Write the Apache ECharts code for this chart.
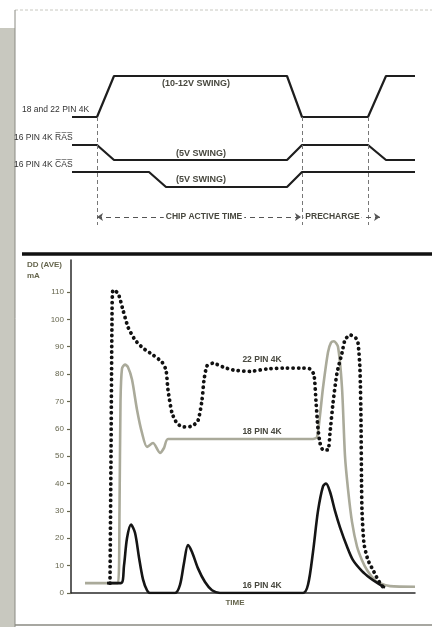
<!DOCTYPE html>
<html>
<head>
<meta charset="utf-8">
<script src="https://cdn.jsdelivr.net/npm/echarts@6/dist/echarts.min.js"></script>
<style>
  html, body { margin: 0; padding: 0; background: #fff; }
  #chart { width: 432px; height: 627px; }
</style>
</head>
<body>
<div id="chart"></div>
<script>
// time axis shared by both panels (0..344)
// upper panel: signal levels (arbitrary units, 0..16)
const sig1822 = [[1, 11.3], [26, 11.3], [43, 15.4], [216, 15.4], [231, 11.3], [297, 11.3], [315, 15.4], [344, 15.4]];
const sigRas = [[1, 8.5], [26, 8.5], [43, 7], [216, 7], [231, 8.5], [297, 8.5], [315, 7], [344, 7]];
const sigCas = [[1, 5.8], [78, 5.8], [95, 4.3], [216, 4.3], [231, 5.8], [344, 5.8]];
const edgeTimes = [26, 231, 297];

// lower panel: IDD (AVE) in mA
const pin22 = [[39, 3.6], [40, 50], [41, 100], [42, 110.7], [47, 109.6], [52, 103.4], [57, 97.2], [64, 92.5],
  [72, 89.5], [82, 87], [91, 84.4], [95, 81.5], [97, 74.2], [101, 65.8], [106, 62], [112, 60.7], [121, 61],
  [127, 63], [131, 70.5], [133, 77.8], [136, 83], [142, 84], [152, 82.6], [162, 81.5], [179, 81], [196, 81.9],
  [212, 82.2], [229, 82.2], [239, 81.9], [243, 79.7], [245, 70], [247, 60], [249, 54.8], [252, 52.3],
  [257, 52.3], [259, 58.5], [262, 69.4], [266, 80.4], [271, 87.7], [274, 92.5], [279, 94.3], [284, 93.6],
  [287, 91.4], [289, 81.5], [290, 63], [290.5, 42], [291, 30], [293, 18], [297, 12], [302, 8.4], [307, 4.8], [312, 2.2]];
const pin18 = [[14, 3.6], [47, 3.6], [48.5, 30], [49.5, 70], [51, 82], [54, 83.5], [57, 82.5], [61, 78], [66, 67],
  [71, 58.5], [76, 53.4], [82, 54.8], [89, 51.2], [93, 53], [97, 56.3], [242, 56.3], [246, 57], [249, 65],
  [252, 75], [257, 88], [260, 91.5], [263, 92], [267, 90], [271, 75], [274, 50], [277, 38], [281, 26], [286, 17],
  [291, 12], [296, 8.4], [303, 5], [309, 3.6], [319, 2.5], [344, 2.3]];
const pin16 = [[36, 3.6], [50, 3.6], [53, 10], [56, 20], [60, 25], [64, 22], [68, 13], [72, 5], [76, 1], [79, 0],
  [104, 0], [109, 3], [113, 11], [117, 17.5], [121, 15], [127, 9], [134, 4], [141, 1], [149, 0], [232, 0],
  [237, 3], [242, 15], [247, 30], [252, 39], [255, 40], [259, 37], [264, 30], [269, 24], [276, 17], [282, 12],
  [291, 8], [299, 5.5], [307, 3.5], [314, 2]];
const yTicks = [0, 10, 20, 30, 40, 50, 60, 70, 80, 90, 100, 110];

const chart = echarts.init(document.getElementById('chart'), null, { renderer: 'canvas' });
const font = '"Liberation Sans", Arial, sans-serif';
const lblColor = '#48483f';
const tickColor = '#66664e';

function txt(x, y, text, opts, size, weight) {
  return {
    type: 'text', x, y, silent: true,
    style: Object.assign({
      text, font: (weight || 'bold') + ' ' + (size || 8.5) + 'px ' + font, fill: lblColor,
      verticalAlign: 'middle', align: 'left'
    }, opts || {})
  };
}

const dashItem = t => [
  { coord: [t, 11.3], symbol: 'none', lineStyle: { type: [4, 3], color: '#777', width: 1 } },
  { coord: [t, 0.5], symbol: 'none' }
];

const arrowLabel = (text, off) => ({
  show: true, position: 'insideMiddle', formatter: text, distance: 0, offset: [off, 0],
  fontSize: 8.5, fontWeight: 'bold', fontFamily: font, color: lblColor, backgroundColor: '#fff', padding: [1, 2]
});

const option = {
  animation: false,
  backgroundColor: '#fff',
  grid: [
    { left: 71, right: 17, top: 70, bottom: 397 },
    { left: 71, right: 17, top: 260, bottom: 34 }
  ],
  xAxis: [
    { gridIndex: 0, type: 'value', min: 0, max: 344, show: false },
    {
      gridIndex: 1, type: 'value', min: 0, max: 344,
      axisLine: { lineStyle: { color: '#2a2a2a', width: 1.5 } },
      axisTick: { show: false }, axisLabel: { show: false }, splitLine: { show: false }
    }
  ],
  yAxis: [
    { gridIndex: 0, type: 'value', min: 0, max: 16, show: false },
    {
      gridIndex: 1, type: 'value', min: 0, max: 121.7,
      axisLine: { show: true, lineStyle: { color: '#2a2a2a', width: 1.5 } },
      axisTick: { show: true, length: 4, customValues: yTicks, lineStyle: { color: tickColor, width: 1.2 } },
      axisLabel: { customValues: yTicks, fontSize: 8, fontFamily: font, color: tickColor, margin: 7 },
      splitLine: { show: false }
    }
  ],
  series: [
    {
      name: '18 and 22 PIN 4K', type: 'line', xAxisIndex: 0, yAxisIndex: 0, data: sig1822,
      symbol: 'none', lineStyle: { color: '#1e1e1e', width: 2.2 }
    },
    {
      name: '16 PIN 4K RAS', type: 'line', xAxisIndex: 0, yAxisIndex: 0, data: sigRas,
      symbol: 'none', lineStyle: { color: '#1e1e1e', width: 2.2 }
    },
    {
      name: '16 PIN 4K CAS', type: 'line', xAxisIndex: 0, yAxisIndex: 0, data: sigCas,
      symbol: 'none', lineStyle: { color: '#1e1e1e', width: 2.2 },
      markLine: {
        silent: true, symbolSize: 6,
        lineStyle: { color: '#555', width: 1, type: [5, 4] },
        label: { show: false },
        data: [
          dashItem(edgeTimes[0]), dashItem(edgeTimes[1]), dashItem(edgeTimes[2]),
          [
            { coord: [edgeTimes[0], 1.3], symbol: 'arrow', label: arrowLabel('CHIP ACTIVE TIME', 5) },
            { coord: [edgeTimes[1] - 1, 1.3], symbol: 'arrow' }
          ],
          [
            { coord: [edgeTimes[1] + 1, 1.3], symbol: 'none', label: arrowLabel('PRECHARGE', -9) },
            { coord: [309, 1.3], symbol: 'arrow' }
          ]
        ]
      }
    },
    {
      name: '18 PIN 4K', type: 'line', xAxisIndex: 1, yAxisIndex: 1, data: pin18, smooth: 0.25,
      symbol: 'none', lineStyle: { color: '#aaaa9a', width: 2.6 }
    },
    {
      name: '16 PIN 4K', type: 'line', xAxisIndex: 1, yAxisIndex: 1, data: pin16, smooth: 0.3,
      symbol: 'none', lineStyle: { color: '#151515', width: 2.6 }
    },
    {
      name: '22 PIN 4K', type: 'line', xAxisIndex: 1, yAxisIndex: 1, data: pin22, smooth: 0.2,
      symbol: 'none', lineStyle: { color: '#111', width: 3.8, type: [0.1, 5.4], cap: 'round' }
    }
  ],
  graphic: [
    { type: 'rect', z: -1, shape: { x: 0, y: 28, width: 15, height: 599 }, style: { fill: '#c8c8bf' }, silent: true },
    { type: 'line', shape: { x1: 15, y1: 10, x2: 432, y2: 10 }, style: { stroke: '#c8c8c0', lineWidth: 1, lineDash: [3, 2] }, silent: true },
    { type: 'line', shape: { x1: 15, y1: 10, x2: 15, y2: 627 }, style: { stroke: '#8a8a82', lineWidth: 1 }, silent: true },
    { type: 'line', shape: { x1: 15, y1: 625, x2: 432, y2: 625 }, style: { stroke: '#8a8a82', lineWidth: 1.5 }, silent: true },
    { type: 'line', shape: { x1: 22, y1: 254, x2: 432, y2: 254 }, style: { stroke: '#111', lineWidth: 3.5 }, silent: true },
    txt(22, 110, '18 and 22 PIN 4K', { fill: '#333' }, 8.5, 'normal'),
    txt(14, 138, '16 PIN 4K R\u0305A\u0305S\u0305', { fill: '#333' }, 8.5, 'normal'),
    txt(14, 165, '16 PIN 4K C\u0305A\u0305S\u0305', { fill: '#333' }, 8.5, 'normal'),
    txt(196, 84, '(10-12V SWING)', { align: 'center' }, 9),
    txt(201, 154, '(5V SWING)', { align: 'center' }, 9),
    txt(201, 180, '(5V SWING)', { align: 'center' }, 9),
    txt(27, 265, 'DD (AVE)', { fill: tickColor }, 8),
    txt(27, 276, 'mA', { fill: tickColor }, 8),
    txt(262, 360, '22 PIN 4K', { align: 'center' }),
    txt(262, 432, '18 PIN 4K', { align: 'center' }),
    txt(262, 586, '16 PIN 4K', { align: 'center' }),
    txt(235, 603, 'TIME', { align: 'center', fill: tickColor }, 8)
  ]
};

chart.setOption(option);
</script>
</body>
</html>
